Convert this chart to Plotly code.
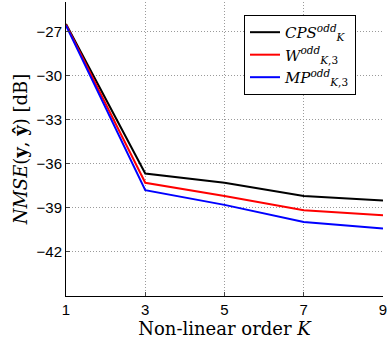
import plotly.graph_objects as go

K = [1, 3, 5, 7, 9]
cps = [-26.5, -36.67, -37.3, -38.2, -38.5]
w3 = [-26.55, -37.3, -38.2, -39.16, -39.5]
mp3 = [-26.6, -37.8, -38.8, -39.96, -40.4]

names = [
    "<i>CPS</i><sup><i>odd</i></sup><sub><i>K</i></sub>",
    "<i>W</i><sup><i>odd</i></sup><sub><i>K</i>,3</sub>",
    "<i>MP</i><sup><i>odd</i></sup><sub><i>K</i>,3</sub>",
]
colors = ["black", "red", "blue"]

fig = go.Figure()
for ys, nm, c in zip([cps, w3, mp3], names, colors):
    fig.add_trace(go.Scatter(x=K, y=ys, mode="lines", name=nm,
                             line=dict(color=c, width=2)))

fig.update_layout(
    width=388, height=343,
    margin=dict(l=66, r=5, t=2, b=47, autoexpand=False),
    plot_bgcolor="white", paper_bgcolor="white",
    font=dict(family="Liberation Sans, Arial", size=15, color="black"),
    showlegend=True,
    legend=dict(x=0.5615, y=0.956, xanchor="left", yanchor="top",
                bordercolor="black", borderwidth=1, bgcolor="white",
                font=dict(family="DejaVu Serif", size=15),
                tracegroupgap=0, itemwidth=30),
)
grid = dict(showgrid=True, gridcolor="#9a9a9a", griddash="1px,2px", gridwidth=1)
fig.update_xaxes(
    range=[1, 9], tickvals=[1, 3, 5, 7, 9], ticks="inside", ticklen=4,
    showline=True, linecolor="black", linewidth=1,
    zeroline=False, automargin=False, ticklabeloverflow="allow",
    **grid,
    title=dict(text="Non-linear order <i>K</i>", standoff=2,
               font=dict(family="DejaVu Serif", size=18)),
)
fig.update_yaxes(
    range=[-45, -25], tickvals=[-27, -30, -33, -36, -39, -42],
    ticktext=["\u221227", "\u221230", "\u221233", "\u221236", "\u221239", "\u221242"],
    ticks="inside", ticklen=4,
    showline=True, linecolor="black", linewidth=1,
    zeroline=False, automargin=False, **grid,
    title=dict(text="<i>NMSE</i>(<b>y</b>, <b>\u0177</b>) [dB]", standoff=4,
               font=dict(family="DejaVu Serif", size=18)),
)

fig.write_html("out.html", config={"displayModeBar": False},
               post_script="document.body.style.margin='0';")
